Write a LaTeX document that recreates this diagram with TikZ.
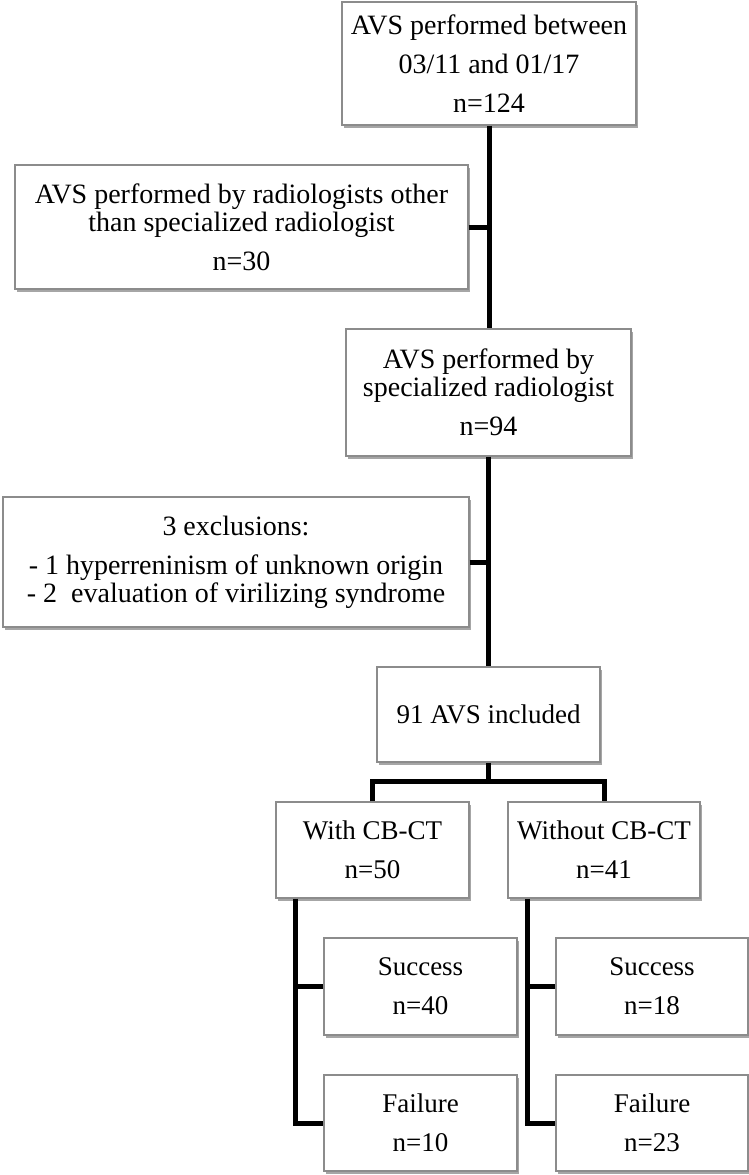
\documentclass[tikz,border=0pt]{standalone}
\usepackage{fontspec}
\setmainfont{Liberation Serif}
\usetikzlibrary{shadows}
\tikzset{
  box/.style={draw=black!45, line width=1.2pt, fill=white, inner sep=0pt, align=center,
    font=\fontsize{27}{28}\selectfont,
    drop shadow={shadow xshift=2pt, shadow yshift=-2.5pt, opacity=.35, fill=black}},
  upbox/.style={box, font=\fontsize{28}{28}\selectfont},
  link/.style={line width=5pt, black}
}

\begin{document}
\begin{tikzpicture}[x=1pt,y=-1pt]
			%%%%% START %%%%%
			\useasboundingbox (0,0) rectangle (749,1175);
			
			\node[upbox, minimum width=294, minimum height=123] (top) at (489, 63.5)
			  {AVS performed between\\[11pt]03/11 and 01/17\\[11pt]n=124};
			\node[upbox, minimum width=453, minimum height=124] (other) at (241.5, 227)
			  {AVS performed by radiologists other\\than specialized radiologist\\[11pt]n=30};
			\node[upbox, minimum width=285, minimum height=127] (spec) at (488.5, 392.5)
			  {AVS performed by\\specialized radiologist\\[11pt]n=94};
			\node[upbox, minimum width=466, minimum height=130] (excl) at (236, 562)
			  {3 exclusions:\\[11pt]- 1 hyperreninism of unknown origin\\- 2\ \ evaluation of virilizing syndrome};
			\node[box, minimum width=223, minimum height=95] (incl) at (488.5, 714.5)
			  {91 AVS included};
			
			\node[box, minimum width=193, minimum height=96] (withcb) at (372.5, 850)
			  {With CB-CT\\[11pt]n=50};
			\node[box, minimum width=192, minimum height=96] (withoutcb) at (604, 850)
			  {Without CB-CT\\[11pt]n=41};
			
			\node[box, minimum width=193, minimum height=97] (succL) at (420.5, 986.5)
			  {Success\\[11pt]n=40};
			\node[box, minimum width=193, minimum height=96] (failL) at (420.5, 1123)
			  {Failure\\[11pt]n=10};
			\node[box, minimum width=192, minimum height=97] (succR) at (652, 986.5)
			  {Success\\[11pt]n=18};
			\node[box, minimum width=192, minimum height=96] (failR) at (652, 1123)
			  {Failure\\[11pt]n=23};
			
			\draw[link] (top.south) -- (top.south |- spec.north);
			\draw[link] (other.east) -- (other.east -| top.south);
			\draw[link] (spec.south) -- (spec.south |- incl.north);
			\draw[link] (excl.east) -- (excl.east -| spec.south);
			
			\draw[link] (incl.south) -- ++(0,20);
			\draw[link] (withcb.north) -- ++(0,-20) -| (withoutcb.north);
			
			\coordinate (trunkL) at ([xshift=20pt]withcb.south west);
			\coordinate (trunkR) at ([xshift=20pt]withoutcb.south west);
			\draw[link] (trunkL) |- (failL.west);
			\draw[link] (succL.west) -- (succL.west -| trunkL);
			\draw[link] (trunkR) |- (failR.west);
			\draw[link] (succR.west) -- (succR.west -| trunkR);
			
			%%%%% END %%%%%
\end{tikzpicture}
\end{document}
